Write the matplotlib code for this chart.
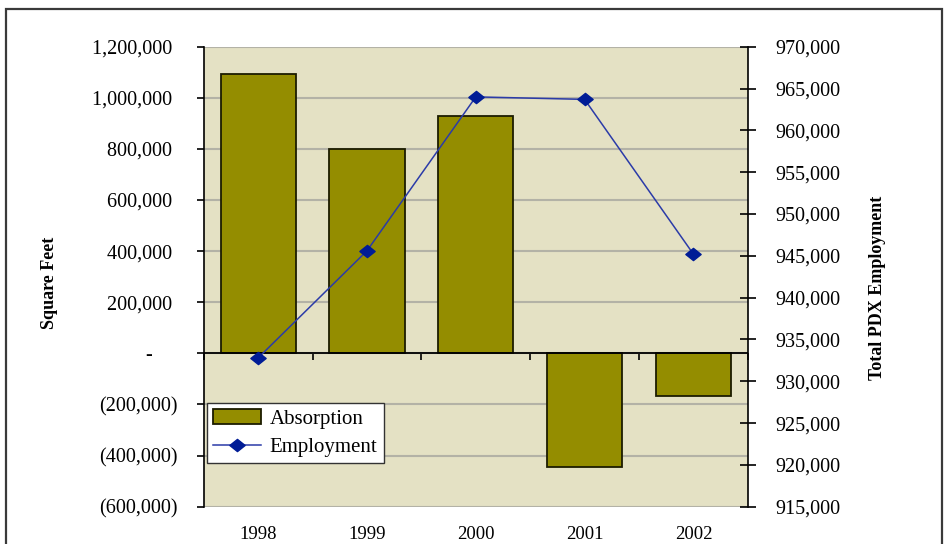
import matplotlib
matplotlib.use("Agg")
import matplotlib.pyplot as plt
from matplotlib.patches import Rectangle
from matplotlib.path import Path
from matplotlib.ticker import FuncFormatter
import numpy as np

years = ["1998", "1999", "2000", "2001", "2002"]
absorption = [1092000, 800000, 927000, -446000, -166000]
employment = [932800, 945600, 964000, 963700, 945200]

left_ticks = list(range(-600000, 1200001, 200000))
right_ticks = list(range(915000, 970001, 5000))

plt.rcParams["font.family"] = ["Liberation Serif", "DejaVu Serif"]

W, H = 944, 544
fig = plt.figure(figsize=(W / 100, H / 100), dpi=100)
fig.patch.set_facecolor("white")

# outer chart frame
fig.add_artist(Rectangle((6 / W, -0.05), (942 - 6) / W, (H - 9) / H + 0.05,
                         transform=fig.transFigure, fill=False,
                         edgecolor="#3a3a3a", linewidth=1.6))

l, r, t, b = 203.8, 747.8, 46.7, 506.7
ax = fig.add_axes([l / W, 1 - b / H, (r - l) / W, (b - t) / H])
ax.set_facecolor("#E4E1C4")

x = np.arange(len(years))

# absorption bars on the left axis
bars = ax.bar(x, absorption, width=0.69, color="#948D00",
              edgecolor="#1c1c00", linewidth=1.3, zorder=3, label="Absorption")

ax.set_xlim(-0.5, len(years) - 0.5)
ax.set_ylim(left_ticks[0], left_ticks[-1])
ax.set_yticks(left_ticks)
ax.grid(axis="y", color="#B3B2A6", linewidth=1.5, zorder=0)
ax.set_axisbelow(True)


def acct(v, _pos=None):
    if abs(v) < 1:
        return "-     "
    if v < 0:
        return "({:,.0f})".format(-v)
    return "{:,.0f} ".format(v)


ax.yaxis.set_major_formatter(FuncFormatter(acct))
ax.tick_params(axis="y", direction="out", length=5, width=1.2,
               labelsize=14.5, pad=14)

ax.set_xticks(x)
ax.set_xticklabels(years)
ax.tick_params(axis="x", length=0, labelsize=13.5, pad=14)

for side in ("top", "bottom", "right"):
    ax.spines[side].set_visible(False)
ax.spines["left"].set_linewidth(1.2)

# category axis line crossing at zero
ax.axhline(0, color="black", linewidth=1.3, zorder=4)
zero_frac = (0 - left_ticks[0]) / (left_ticks[-1] - left_ticks[0])
sec = ax.secondary_xaxis(zero_frac)
sec.set_xticks(np.arange(-0.5, len(years), 1.0))
sec.set_xticklabels([])
sec.spines["bottom"].set_visible(False)
sec.tick_params(axis="x", direction="out", length=5, width=1.2)

# employment line on the right axis
ax2 = ax.twinx()
diamond = Path([(-1, 0), (0, 0.8), (1, 0), (0, -0.8), (-1, 0)],
               [Path.MOVETO, Path.LINETO, Path.LINETO, Path.LINETO, Path.CLOSEPOLY])
line, = ax2.plot(x, employment, color="#2B3BA8", linewidth=1.1,
                 marker=diamond, markersize=11, markerfacecolor="#001C96",
                 markeredgecolor="#001C96", zorder=5, label="Employment")
ax2.set_ylim(right_ticks[0], right_ticks[-1])
ax2.set_yticks(right_ticks)
ax2.yaxis.set_major_formatter(FuncFormatter(lambda v, p: "{:,.0f}".format(v)))
ax2.tick_params(axis="y", direction="inout", length=12, width=1.2,
                labelsize=14.5, pad=14)
for side in ("top", "bottom", "left"):
    ax2.spines[side].set_visible(False)
ax2.spines["right"].set_linewidth(1.2)

fig.text(49 / W, 1 - 283 / H, "Square Feet", rotation=90, ha="center",
         va="center", fontsize=13, fontweight="bold")
fig.text(877.5 / W, 1 - 287.5 / H, "Total PDX Employment", rotation=90,
         ha="center", va="center", fontsize=13, fontweight="bold")

leg = ax2.legend([bars, line], ["Absorption", "Employment"],
                 loc="upper left", bbox_to_anchor=(0.006, 0.226),
                 borderaxespad=0, fontsize=15, frameon=True, fancybox=False,
                 framealpha=1, edgecolor="#333333", handlelength=2.3,
                 handletextpad=0.4, labelspacing=0.42, borderpad=0.3)
leg.get_frame().set_linewidth(1.0)
leg.set_zorder(10)

fig.savefig("out.png", dpi=100)
